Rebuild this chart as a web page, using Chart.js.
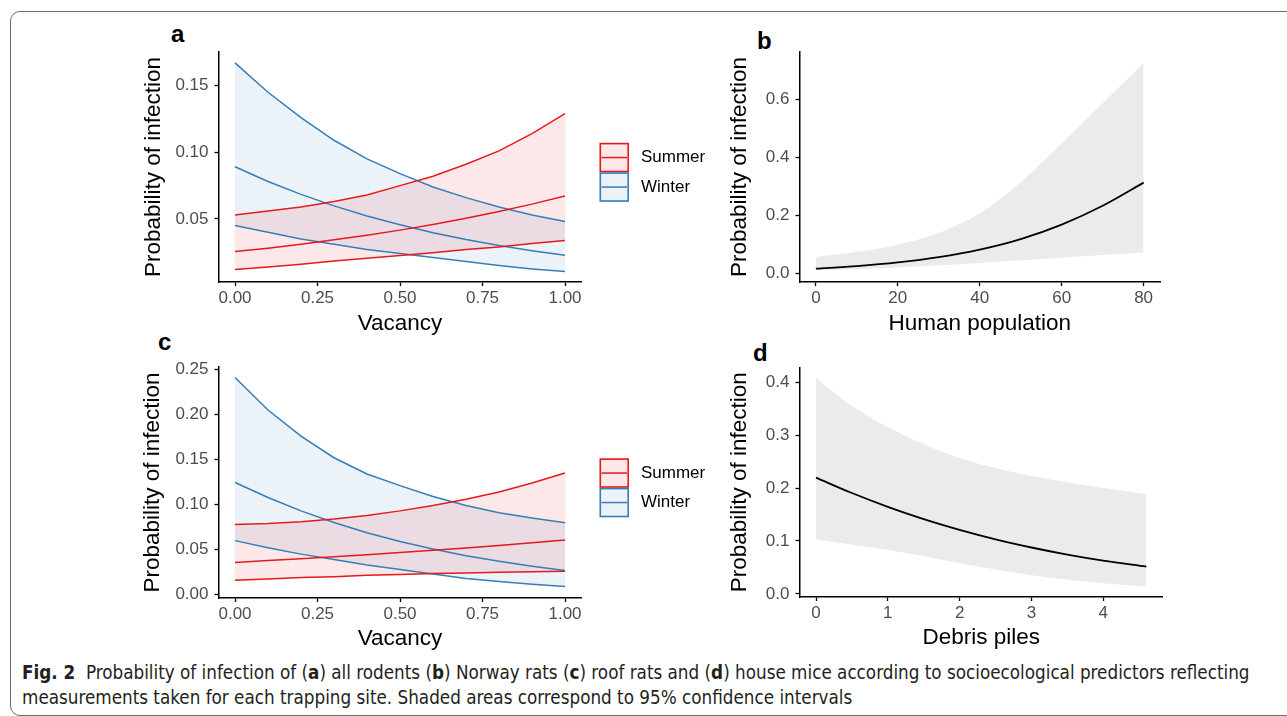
<!DOCTYPE html>
<html>
<head>
<meta charset="utf-8">
<script src="https://cdn.jsdelivr.net/npm/chart.js@4.4.1/dist/chart.umd.min.js"></script>
<style>
  body { margin: 0; background: #fff; width: 1287px; height: 716px; overflow: hidden; position: relative; font-family: "Liberation Sans", Arial, sans-serif; }
  .frame { position: absolute; left: 10px; top: 11px; width: 1320px; height: 703px; border: 1.5px solid #6b6b6b; border-radius: 10px; }
  canvas { position: absolute; }
  .tag { position: absolute; font: bold 24px "Liberation Sans", Arial, sans-serif; line-height: 1; }
  .caption { position: absolute; left: 22px; top: 660px; font-family: "Liberation Sans Narrow", "DejaVu Sans Condensed", sans-serif; font-stretch: condensed; font-size: 18.7px; line-height: 25px; color: #231f20; white-space: nowrap; }
</style>
</head>
<body>
<div class="frame"></div>
<div class="tag" style="left:171px; top:22px">a</div>
<div class="tag" style="left:757px; top:29px">b</div>
<div class="tag" style="left:158px; top:330px">c</div>
<div class="tag" style="left:753px; top:341px">d</div>
<div class="caption" id="cap">
  <div><b>Fig. 2</b>&nbsp; Probability of infection of (<b>a</b>) all rodents (<b>b</b>) Norway rats (<b>c</b>) roof rats and (<b>d</b>) house mice according to socioecological predictors reflecting</div>
  <div>measurements taken for each trapping site. Shaded areas correspond to 95% confidence intervals</div>
</div>
<script>
// ---- data ----
const seasons = ['Summer', 'Winter'];
const vacancy = [0, 0.1, 0.2, 0.3, 0.4, 0.5, 0.6, 0.7, 0.8, 0.9, 1.0];
const vacancyTicks = [0, 0.25, 0.5, 0.75, 1];

// (a) all rodents
const aSummerLow = [0.012, 0.014, 0.016, 0.0185, 0.0205, 0.0225, 0.0247, 0.027, 0.029, 0.0315, 0.0338];
const aSummerMid = [0.0255, 0.0281, 0.0311, 0.0343, 0.0378, 0.0416, 0.0459, 0.0505, 0.0556, 0.0611, 0.0672];
const aSummerUp  = [0.053, 0.056, 0.059, 0.063, 0.068, 0.075, 0.082, 0.091, 0.101, 0.114, 0.129];
const aWinterLow = [0.045, 0.040, 0.035, 0.031, 0.027, 0.024, 0.021, 0.018, 0.015, 0.0125, 0.0105];
const aWinterMid = [0.0891, 0.0781, 0.0684, 0.0598, 0.0522, 0.0456, 0.0397, 0.0346, 0.0301, 0.0262, 0.0228];
const aWinterUp  = [0.167, 0.145, 0.126, 0.109, 0.095, 0.084, 0.074, 0.066, 0.059, 0.053, 0.048];
const aYTicks = [0.05, 0.10, 0.15];

// (b) Norway rats
const population = [0, 10, 20, 30, 40, 50, 60, 70, 80];
const popTicks = [0, 20, 40, 60, 80];
const bMid = [0.0174, 0.0259, 0.0384, 0.0566, 0.0826, 0.119, 0.169, 0.234, 0.314];
const bUp  = [0.0574, 0.075, 0.100, 0.140, 0.208, 0.315, 0.450, 0.588, 0.727];
const bLow = [0.0114, 0.016, 0.021, 0.029, 0.037, 0.046, 0.055, 0.064, 0.0727];
const bYTicks = [0, 0.2, 0.4, 0.6];

// (c) roof rats
const cSummerLow = [0.016, 0.0175, 0.019, 0.020, 0.0215, 0.0225, 0.0235, 0.024, 0.025, 0.0255, 0.026];
const cSummerMid = [0.0358, 0.0378, 0.0398, 0.0420, 0.0443, 0.0467, 0.0492, 0.0518, 0.0546, 0.0576, 0.0606];
const cSummerUp  = [0.078, 0.079, 0.081, 0.084, 0.088, 0.093, 0.099, 0.106, 0.114, 0.124, 0.135];
const cWinterLow = [0.060, 0.052, 0.045, 0.039, 0.033, 0.028, 0.023, 0.018, 0.0145, 0.0115, 0.009];
const cWinterMid = [0.1245, 0.1078, 0.0930, 0.0801, 0.0688, 0.0590, 0.0506, 0.0432, 0.0370, 0.0316, 0.0269];
const cWinterUp  = [0.241, 0.205, 0.176, 0.152, 0.134, 0.121, 0.109, 0.099, 0.091, 0.085, 0.0798];
const cYTicks = [0, 0.05, 0.10, 0.15, 0.20, 0.25];

// (d) house mice
const debris = [0, 0.5, 1, 1.5, 2, 2.5, 3, 3.5, 4, 4.6];
const debrisTicks = [0, 1, 2, 3, 4];
const dMid = [0.2198, 0.1906, 0.1645, 0.1412, 0.1209, 0.1030, 0.0876, 0.0742, 0.0628, 0.0513];
const dUp  = [0.408, 0.355, 0.315, 0.283, 0.257, 0.238, 0.223, 0.211, 0.200, 0.189];
const dLow = [0.103, 0.093, 0.083, 0.071, 0.058, 0.046, 0.035, 0.027, 0.020, 0.014];
const dYTicks = [0, 0.1, 0.2, 0.3, 0.4];

// ---- styles ----
const RED = '#e41a1c', BLUE = '#377eb8';
const RED_FILL = 'rgba(228,26,28,0.1)', BLUE_FILL = 'rgba(55,126,184,0.1)';
const GREY_FILL = '#ebebeb';
const FONT = '"Liberation Sans", Arial, sans-serif';

const pts = (xs, ys) => xs.map((x, i) => ({ x: x, y: ys[i] }));

function seasonSets(xs, low, mid, up, line, fill) {
  const base = { borderColor: line, borderWidth: 1.5, pointRadius: 0, tension: 0, fill: false };
  return [
    Object.assign({}, base, { data: pts(xs, low) }),
    Object.assign({}, base, { data: pts(xs, mid) }),
    Object.assign({}, base, { data: pts(xs, up), fill: { target: '-2', above: fill, below: fill } })
  ];
}

function bandSets(xs, low, mid, up) {
  const band = { borderColor: 'transparent', borderWidth: 0, pointRadius: 0, cubicInterpolationMode: 'monotone' };
  return [
    Object.assign({}, band, { data: pts(xs, low), fill: false }),
    Object.assign({}, band, { data: pts(xs, up), fill: { target: '-1', above: GREY_FILL, below: GREY_FILL } }),
    { data: pts(xs, mid), borderColor: '#000', borderWidth: 1.8, pointRadius: 0, fill: false, cubicInterpolationMode: 'monotone' }
  ];
}

// ggplot style key: tinted square, coloured outline, line through the middle
const seasonKey = {
  id: 'seasonKey',
  afterDraw(chart, args, opts) {
    if (!opts.items) return;
    const { ctx, chartArea } = chart;
    const s = opts.size;
    const x = chartArea.right + opts.gap;
    let y = (chartArea.top + chartArea.bottom) / 2 + opts.shift - opts.items.length * s / 2;
    ctx.save();
    opts.items.forEach(it => {
      ctx.fillStyle = it.fill;
      ctx.fillRect(x, y, s, s);
      ctx.strokeStyle = it.line;
      ctx.lineWidth = 1.6;
      ctx.strokeRect(x + 0.8, y + 0.8, s - 1.6, s - 1.6);
      ctx.lineWidth = 1.5;
      ctx.beginPath();
      ctx.moveTo(x + 2, y + s / 2);
      ctx.lineTo(x + s - 2, y + s / 2);
      ctx.stroke();
      ctx.fillStyle = '#000';
      ctx.font = '17px ' + FONT;
      ctx.textBaseline = 'middle';
      ctx.fillText(it.label, x + s + 12, y + s / 2);
      y += s;
    });
    ctx.restore();
  }
};

function axis(o) {
  return {
    type: 'linear',
    min: o.min, max: o.max,
    afterBuildTicks: sc => { sc.ticks = o.ticks.map(v => ({ value: v })); },
    afterFit: sc => { if (o.width !== undefined) sc.width = o.width; if (o.height !== undefined) sc.height = o.height; },
    grid: { drawOnChartArea: false, drawTicks: true, tickLength: 4, tickColor: '#000', tickWidth: 1.3 },
    border: { display: true, color: '#000', width: 1.5 },
    ticks: { font: { size: 17, family: FONT }, color: '#4d4d4d', padding: o.tickPad, callback: v => v.toFixed(o.dec) },
    title: { display: true, text: o.title, color: '#000', font: { size: 22.5, family: FONT }, padding: o.titlePad }
  };
}

function makePanel(p) {
  const cv = document.createElement('canvas');
  cv.width = p.box[2]; cv.height = p.box[3];
  cv.style.left = p.box[0] + 'px'; cv.style.top = p.box[1] + 'px';
  document.body.appendChild(cv);
  const right = p.box[0] + p.box[2], bottom = p.box[1] + p.box[3];
  new Chart(cv.getContext('2d'), {
    type: 'line',
    data: { datasets: p.datasets },
    options: {
      responsive: false, animation: false, devicePixelRatio: 1,
      layout: { padding: { left: 0, top: p.plot[1] - p.box[1], right: right - p.plot[2], bottom: 0 } },
      plugins: {
        legend: { display: false }, tooltip: { enabled: false },
        filler: { drawTime: 'beforeDatasetsDraw' },
        seasonKey: p.key || {}
      },
      scales: {
        x: axis(Object.assign({}, p.x, { height: bottom - p.plot[3], tickPad: 2.5, titlePad: { top: 0, bottom: bottom - p.xTitleY - 13.5 } })),
        y: axis(Object.assign({}, p.y, { width: p.plot[0] - p.box[0], tickPad: 6, titlePad: { top: p.yTitleX - p.box[0] - 13.5, bottom: 0 } }))
      }
    },
    plugins: [seasonKey]
  });
}

const keyItems = [
  { label: seasons[0], line: RED, fill: RED_FILL },
  { label: seasons[1], line: BLUE, fill: BLUE_FILL }
];
const keyOpts = { items: keyItems, size: 29.5, gap: 18, shift: 5.3 };

makePanel({
  box: [130, 20, 590, 320], plot: [218.5, 52, 581.5, 282], yTitleX: 154, xTitleY: 324,
  x: { min: -0.05, max: 1.05, ticks: vacancyTicks, dec: 2, title: 'Vacancy' },
  y: { min: 0.0027, max: 0.1752, ticks: aYTicks, dec: 2, title: 'Probability of infection' },
  datasets: seasonSets(vacancy, aSummerLow, aSummerMid, aSummerUp, RED, RED_FILL)
    .concat(seasonSets(vacancy, aWinterLow, aWinterMid, aWinterUp, BLUE, BLUE_FILL)),
  key: keyOpts
});

makePanel({
  box: [720, 20, 560, 320], plot: [799.5, 52, 1160, 282], yTitleX: 739.5, xTitleY: 324,
  x: { min: -4, max: 84, ticks: popTicks, dec: 0, title: 'Human population' },
  y: { min: -0.029, max: 0.765, ticks: bYTicks, dec: 1, title: 'Probability of infection' },
  datasets: bandSets(population, bLow, bMid, bUp)
});

makePanel({
  box: [130, 340, 590, 318], plot: [218.5, 367, 581.5, 598], yTitleX: 153, xTitleY: 638.5,
  x: { min: -0.05, max: 1.05, ticks: vacancyTicks, dec: 2, title: 'Vacancy' },
  y: { min: -0.0037, max: 0.2527, ticks: cYTicks, dec: 2, title: 'Probability of infection' },
  datasets: seasonSets(vacancy, cSummerLow, cSummerMid, cSummerUp, RED, RED_FILL)
    .concat(seasonSets(vacancy, cWinterLow, cWinterMid, cWinterUp, BLUE, BLUE_FILL)),
  key: keyOpts
});

makePanel({
  box: [720, 340, 560, 318], plot: [799.5, 367.5, 1162.8, 597], yTitleX: 739.5, xTitleY: 638,
  x: { min: -0.23, max: 4.83, ticks: debrisTicks, dec: 0, title: 'Debris piles' },
  y: { min: -0.006, max: 0.428, ticks: dYTicks, dec: 1, title: 'Probability of infection' },
  datasets: bandSets(debris, dLow, dMid, dUp)
});
</script>
</body>
</html>
